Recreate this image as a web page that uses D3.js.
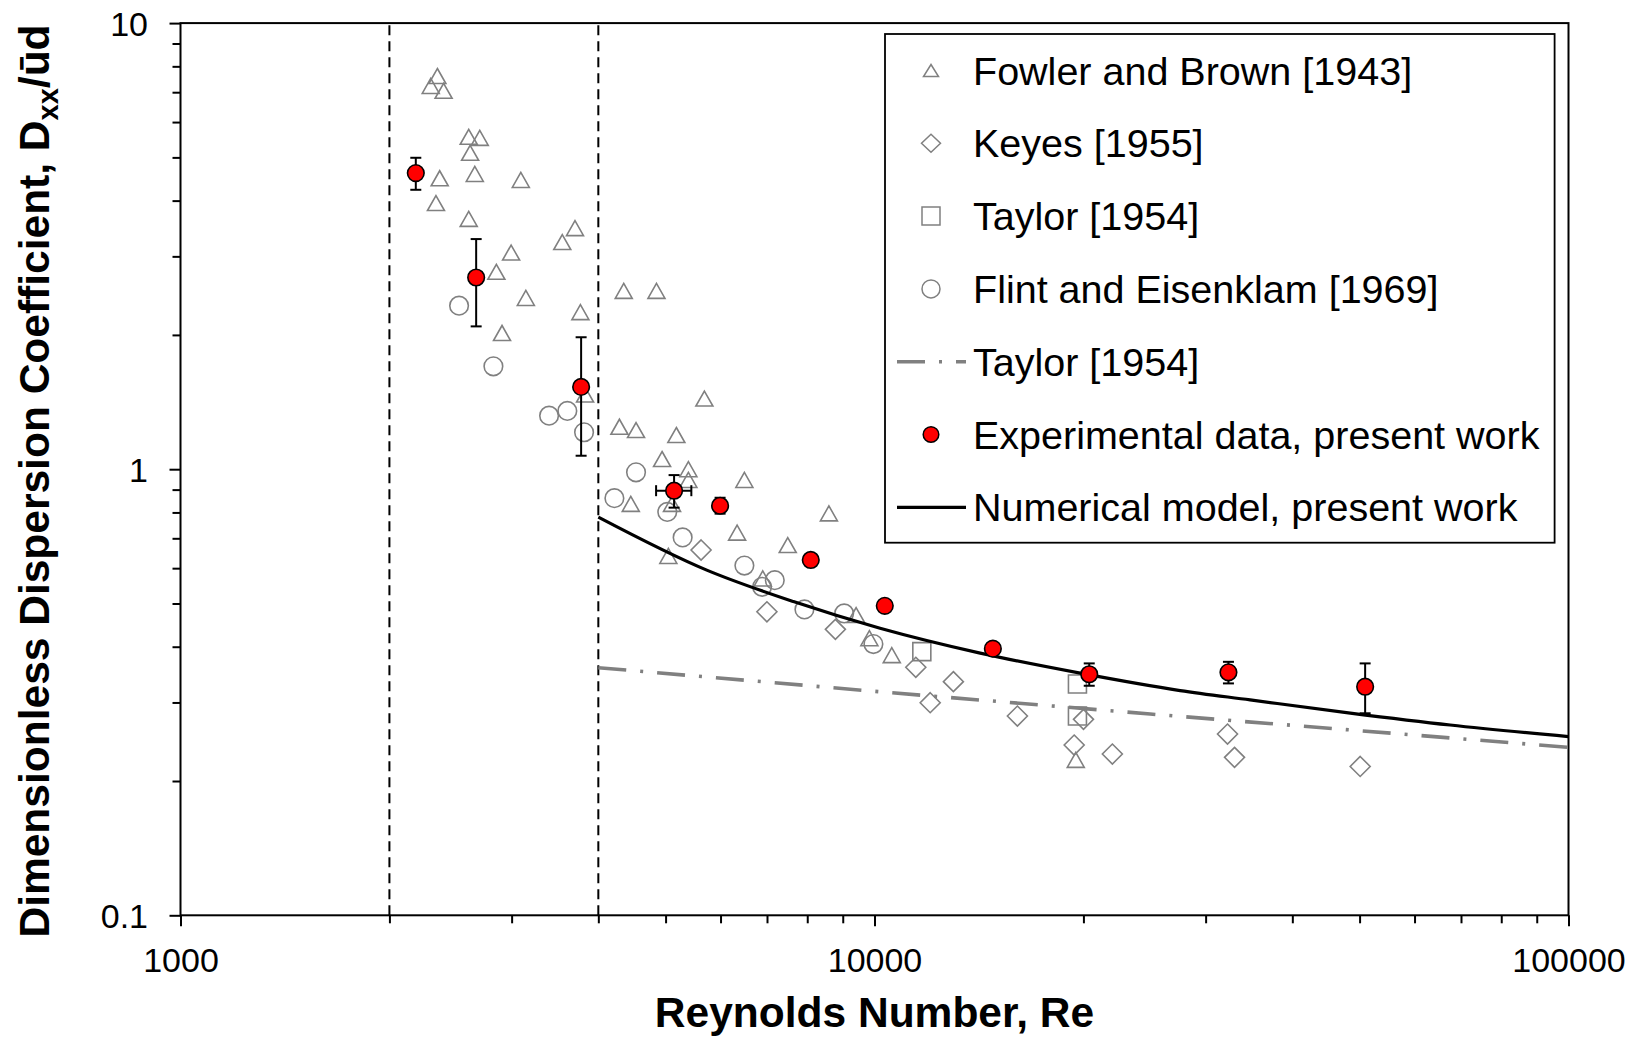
<!DOCTYPE html>
<html>
<head>
<meta charset="utf-8">
<script src="https://cdn.jsdelivr.net/npm/d3@7"></script>
<style>
  html, body { margin: 0; padding: 0; background: #fff; }
  svg { display: block; }
  text { font-family: "Liberation Sans", Arial, Helvetica, sans-serif; fill: #000; }
</style>
</head>
<body>
<svg id="chart" width="1646" height="1038"></svg>
<script>
// ---------------- DATA ----------------
// Fowler and Brown [1943]  [Re, D]
const fowlerBrown = [
  [2345, 7.61], [2294, 7.23], [2394, 7.05], [2602, 5.56], [2699, 5.53], [2614, 5.12],
  [2363, 4.49], [2655, 4.59], [3093, 4.45], [2334, 3.95], [2602, 3.64], [3702, 3.47],
  [3549, 3.23], [2995, 3.06], [2852, 2.77], [3145, 2.42], [4352, 2.51], [4851, 2.51],
  [3769, 2.25], [2906, 2.02], [3828, 1.47], [5687, 1.44], [4290, 1.245], [4533, 1.224],
  [5182, 1.193], [4942, 1.054], [5393, 1.0], [5393, 0.946], [6494, 0.946], [4455, 0.836],
  [5108, 0.836], [8596, 0.796], [6339, 0.721], [7499, 0.676], [5046, 0.639], [6902, 0.569],
  [9408, 0.471], [9832, 0.418], [10590, 0.383], [19500, 0.223]
];
// Keyes [1955]
const keyes = [
  [5625, 0.659], [6998, 0.479], [8783, 0.4376], [11469, 0.3597], [12992, 0.334],
  [12030, 0.2996], [16066, 0.2797], [20005, 0.275], [19397, 0.2408], [22016, 0.2299],
  [32260, 0.2549], [33020, 0.226], [50100, 0.2156]
];
// Taylor [1954] (points)
const taylorPoints = [ [11700, 0.39], [19608, 0.330], [19608, 0.2797] ];
// Flint and Eisenklam [1969]
const flintEisenklam = [
  [2520, 2.326], [2824, 1.701], [3397, 1.318], [3609, 1.351], [3815, 1.21], [4533, 0.984],
  [4219, 0.861], [5028, 0.802], [5291, 0.703], [6494, 0.608], [6887, 0.545], [7183, 0.564],
  [7926, 0.485], [9042, 0.475], [9964, 0.4055]
];
// Taylor [1954] correlation line
const taylorLine = [ [4000, 0.359], [10186, 0.317], [24960, 0.2826], [100000, 0.238] ];
// Experimental data, present work
const expRe    = [2183, 2667, 3778, 5143, 5991, 8094, 10347, 14810, 20390, 32360, 50930];
const expD     = [4.61, 2.69, 1.529, 0.895, 0.828, 0.626, 0.494, 0.396, 0.347, 0.3505, 0.3254];
const expDLow  = [4.23, 2.09, 1.072, 0.820, 0.795, null, null, null, 0.327, 0.331, 0.2837];
const expDHigh = [4.99, 3.28, 1.976, 0.970, 0.863, null, null, null, 0.367, 0.370, 0.367];
const expReLow  = [null, null, null, 4845, null, null, null, null, null, null, null];
const expReHigh = [null, null, null, 5446, null, null, null, null, null, null, null];
// Numerical model, present work
const modelLine = [
  [4000, 0.781], [5732, 0.594], [7641, 0.505], [10186, 0.44], [14200, 0.387],
  [19786, 0.349], [27570, 0.319], [34780, 0.304], [48480, 0.284], [67520, 0.267], [100000, 0.2515]
];
// Regime boundaries (vertical dashed lines)
const regimeBounds = [2000, 4000];
// Axis ticks
const xMajorTicks = [1000, 10000, 100000];
const xTickLabels = ["1000", "10000", "100000"];
const xMinorTicks = [2000,3000,4000,5000,6000,7000,8000,9000,20000,30000,40000,50000,60000,70000,80000,90000];
const yMajorTicks = [0.1, 1, 10];
const yTickLabels = ["0.1", "1", "10"];
const yMinorTicks = [0.2,0.3,0.4,0.5,0.6,0.7,0.8,0.9,2,3,4,5,6,7,8,9];
const legendLabels = [
  "Fowler and Brown [1943]", "Keyes [1955]", "Taylor [1954]", "Flint and Eisenklam [1969]",
  "Taylor [1954]", "Experimental data, present work", "Numerical model, present work"
];

// ---------------- LAYOUT ----------------
const svg = d3.select("#chart");
const L = 180.5, R = 1568.5, T = 23.1, B = 915.3;
const GRAY = "#808080";

const x = d3.scaleLog().domain([1000, 100000]).range([L, R]);
const y = d3.scaleLog().domain([0.1, 10]).range([B, T]);

svg.append("rect").attr("width", 1646).attr("height", 1038).attr("fill", "#fff");

// regime dashed lines
svg.append("g").selectAll("line").data(regimeBounds).join("line")
  .attr("x1", d => x(d)).attr("x2", d => x(d))
  .attr("y1", B).attr("y2", T)
  .attr("stroke", "#000").attr("stroke-width", 2).attr("stroke-dasharray", "10,6");

// marker shape generators
function triPath(w, h) { return `M0,${-h/2}L${w/2},${h/2}L${-w/2},${h/2}Z`; }
function diaPath(w, h) { return `M0,${-h/2}L${w/2},0L0,${h/2}L${-w/2},0Z`; }
function sqPath(s) { return `M${-s/2},${-s/2}H${s/2}V${s/2}H${-s/2}Z`; }

const gMarks = svg.append("g");
gMarks.append("g").selectAll("path").data(fowlerBrown).join("path")
  .attr("d", triPath(17, 15))
  .attr("transform", d => `translate(${x(d[0])},${y(d[1])})`)
  .attr("fill", "none").attr("stroke", GRAY).attr("stroke-width", 1.6);
gMarks.append("g").selectAll("path").data(keyes).join("path")
  .attr("d", diaPath(20, 20))
  .attr("transform", d => `translate(${x(d[0])},${y(d[1])})`)
  .attr("fill", "none").attr("stroke", GRAY).attr("stroke-width", 1.6);
gMarks.append("g").selectAll("path").data(taylorPoints).join("path")
  .attr("d", sqPath(18))
  .attr("transform", d => `translate(${x(d[0])},${y(d[1])})`)
  .attr("fill", "none").attr("stroke", GRAY).attr("stroke-width", 1.6);
gMarks.append("g").selectAll("circle").data(flintEisenklam).join("circle")
  .attr("cx", d => x(d[0])).attr("cy", d => y(d[1])).attr("r", 9.3)
  .attr("fill", "none").attr("stroke", GRAY).attr("stroke-width", 1.6);

// lines
svg.append("path").datum(taylorLine)
  .attr("d", d3.line().x(d => x(d[0])).y(d => y(d[1])).curve(d3.curveLinear))
  .attr("fill", "none").attr("stroke", GRAY).attr("stroke-width", 3.6)
  .attr("stroke-dasharray", "28,14,3,14");
svg.append("path").datum(modelLine)
  .attr("d", d3.line().x(d => x(d[0])).y(d => y(d[1])).curve(d3.curveMonotoneX))
  .attr("fill", "none").attr("stroke", "#000").attr("stroke-width", 3.2);

// experimental data with error bars
const exp = expRe.map((re, i) => ({
  re, d: expD[i], lo: expDLow[i], hi: expDHigh[i], xlo: expReLow[i], xhi: expReHigh[i]
}));
const gErr = svg.append("g").attr("stroke", "#000").attr("stroke-width", 2);
const cap = 5.5;
exp.forEach(p => {
  if (p.lo != null) {
    gErr.append("line").attr("x1", x(p.re)).attr("x2", x(p.re)).attr("y1", y(p.lo)).attr("y2", y(p.hi));
    gErr.append("line").attr("x1", x(p.re) - cap).attr("x2", x(p.re) + cap).attr("y1", y(p.lo)).attr("y2", y(p.lo));
    gErr.append("line").attr("x1", x(p.re) - cap).attr("x2", x(p.re) + cap).attr("y1", y(p.hi)).attr("y2", y(p.hi));
  }
  if (p.xlo != null) {
    gErr.append("line").attr("x1", x(p.xlo)).attr("x2", x(p.xhi)).attr("y1", y(p.d)).attr("y2", y(p.d));
    gErr.append("line").attr("x1", x(p.xlo)).attr("x2", x(p.xlo)).attr("y1", y(p.d) - cap).attr("y2", y(p.d) + cap);
    gErr.append("line").attr("x1", x(p.xhi)).attr("x2", x(p.xhi)).attr("y1", y(p.d) - cap).attr("y2", y(p.d) + cap);
  }
});
svg.append("g").selectAll("circle").data(exp).join("circle")
  .attr("cx", d => x(d.re)).attr("cy", d => y(d.d)).attr("r", 8.3)
  .attr("fill", "#ff0000").attr("stroke", "#000").attr("stroke-width", 1.6);

// ---------------- AXES ----------------
const tickFont = 34;
const xAxisMajor = d3.axisBottom(x).tickValues(xMajorTicks).tickSize(11).tickPadding(22)
  .tickFormat((d, i) => xTickLabels[i]);
const xAxisMinor = d3.axisBottom(x).tickValues(xMinorTicks).tickSize(8).tickFormat("");
const yAxisMajor = d3.axisLeft(y).tickValues(yMajorTicks).tickSize(11).tickPadding(21.5)
  .tickFormat((d, i) => yTickLabels[i]);
const yAxisMinor = d3.axisLeft(y).tickValues(yMinorTicks).tickSize(8).tickFormat("");

function styleAxis(g) {
  g.select(".domain").remove();
  g.selectAll(".tick line").attr("stroke", "#000").attr("stroke-width", 2);
  g.selectAll("text").attr("font-size", tickFont)
    .attr("font-family", '"Liberation Sans", Arial, sans-serif').attr("fill", "#000");
}
svg.append("g").attr("transform", `translate(0,${B})`).call(xAxisMinor).call(styleAxis);
svg.append("g").attr("transform", `translate(0,${B})`).call(xAxisMajor).call(styleAxis)
  .selectAll("text").attr("dy", "0.69em");
svg.append("g").attr("transform", `translate(${L},0)`).call(yAxisMinor).call(styleAxis);
svg.append("g").attr("transform", `translate(${L},0)`).call(yAxisMajor).call(styleAxis)
  .selectAll("text").attr("dy", "0.36em");

// frame
svg.append("rect").attr("x", L).attr("y", T).attr("width", R - L).attr("height", B - T)
  .attr("fill", "none").attr("stroke", "#000").attr("stroke-width", 2);

// axis titles
svg.append("text").attr("x", 874.5).attr("y", 1027).attr("text-anchor", "middle")
  .attr("font-size", 42.5).attr("font-weight", "bold").text("Reynolds Number, Re");

const yt = svg.append("text").attr("transform", "translate(49,481) rotate(-90)")
  .attr("text-anchor", "middle").attr("font-size", 42.5).attr("font-weight", "bold");
yt.append("tspan").text("Dimensionless Dispersion Coefficient, D");
yt.append("tspan").attr("font-size", 29).attr("dy", 9).text("xx");
yt.append("tspan").attr("dy", -9).text("/\u016Bd");

// ---------------- LEGEND ----------------
const lg = svg.append("g");
lg.append("rect").attr("x", 885).attr("y", 34).attr("width", 669.6).attr("height", 508.7)
  .attr("fill", "#fff").attr("stroke", "#000").attr("stroke-width", 1.8);
const rowY = i => 70.5 + i * 72.8;
const mx = 931;
legendLabels.forEach((lab, i) => {
  lg.append("text").attr("x", 973).attr("y", rowY(i)).attr("dy", "0.355em")
    .attr("font-size", 39.5).text(lab);
});
lg.append("path").attr("d", triPath(15, 12)).attr("transform", `translate(${mx},${rowY(0)})`)
  .attr("fill", "none").attr("stroke", GRAY).attr("stroke-width", 1.5);
lg.append("path").attr("d", diaPath(19, 18)).attr("transform", `translate(${mx},${rowY(1)})`)
  .attr("fill", "none").attr("stroke", GRAY).attr("stroke-width", 1.5);
lg.append("path").attr("d", sqPath(18)).attr("transform", `translate(${mx},${rowY(2)})`)
  .attr("fill", "none").attr("stroke", GRAY).attr("stroke-width", 1.5);
lg.append("circle").attr("cx", mx).attr("cy", rowY(3)).attr("r", 9)
  .attr("fill", "none").attr("stroke", GRAY).attr("stroke-width", 1.5);
lg.append("line").attr("x1", 897).attr("x2", 966).attr("y1", rowY(4)).attr("y2", rowY(4))
  .attr("stroke", GRAY).attr("stroke-width", 3.6).attr("stroke-dasharray", "28,14,3,14");
lg.append("circle").attr("cx", mx).attr("cy", rowY(5)).attr("r", 7.8)
  .attr("fill", "#ff0000").attr("stroke", "#000").attr("stroke-width", 1.5);
lg.append("line").attr("x1", 897).attr("x2", 966).attr("y1", rowY(6)).attr("y2", rowY(6))
  .attr("stroke", "#000").attr("stroke-width", 3.2);
</script>
</body>
</html>
